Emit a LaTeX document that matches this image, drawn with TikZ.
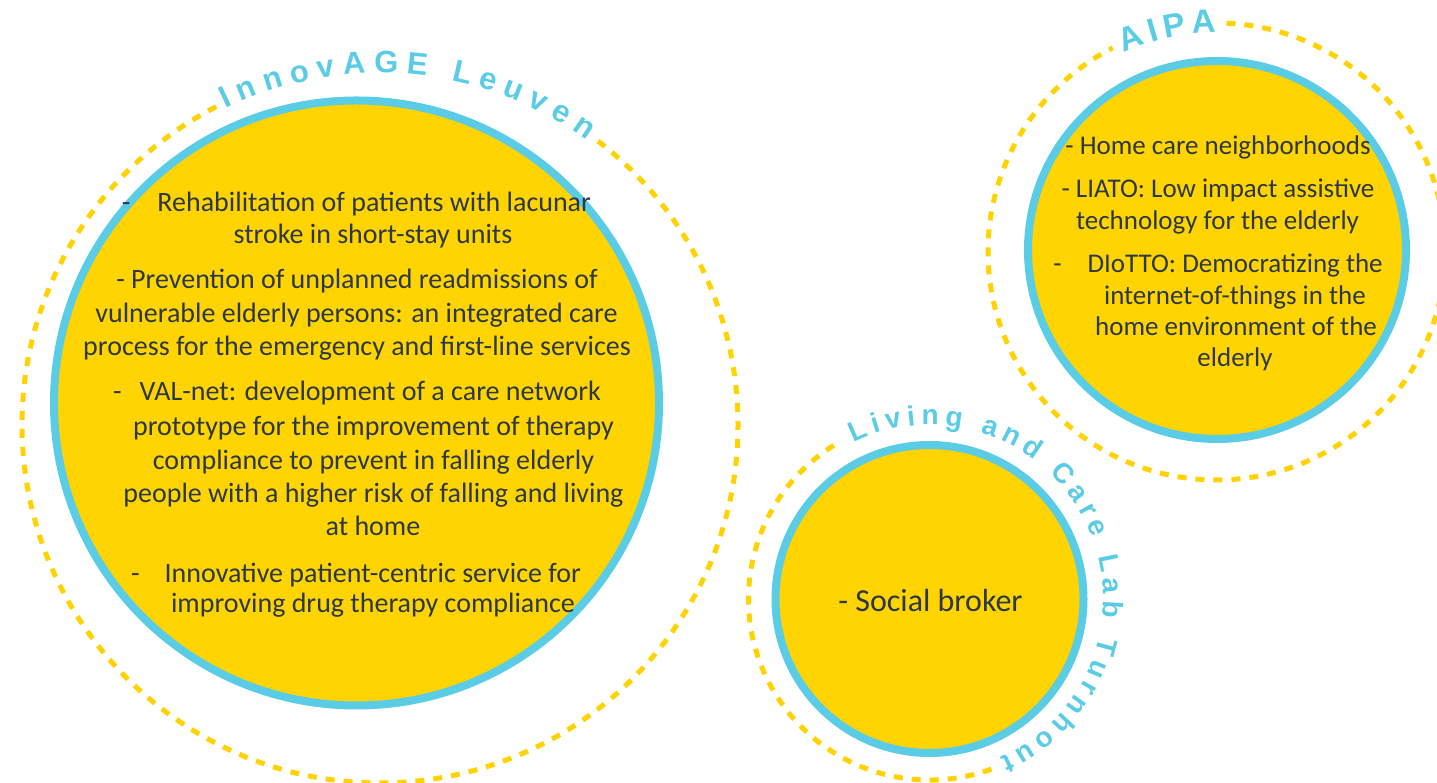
\documentclass[tikz,border=0pt]{standalone}
\usepackage{fontspec}
\setmainfont{Carlito}
\newfontfamily\labfont{Liberation Sans}
\usetikzlibrary{decorations.text}
\definecolor{ringblue}{RGB}{91,204,230}
\definecolor{sunyellow}{RGB}{255,212,0}
\definecolor{dashyellow}{RGB}{255,210,0}
\definecolor{bodytext}{RGB}{44,56,72}
\newcommand{\dashgap}[1]{-\hspace{#1}}
\begin{document}
\begin{tikzpicture}[x=1pt,y=1pt,
  ring/.style={circle, draw=ringblue, line width=8pt, fill=sunyellow, inner sep=0pt},
  dashring/.style={draw=dashyellow, line width=5pt, dash pattern=on 9pt off 9pt},
  body/.style={text=bodytext, font=\fontsize{27}{32}\selectfont, inner sep=0pt, anchor=base},
  bigbody/.style={body, font=\fontsize{28}{33}\selectfont},
  arclabel/.style={decorate, decoration={text along path, text={#1}, text align={fit to path}, text color=ringblue}}
]
\useasboundingbox (0,0) rectangle (1437,783);

% centres of the dashed rings
\coordinate (innoC) at (380,358);
\coordinate (aipaC) at (1216.5,531.5);
\coordinate (livC) at (929.5,184);

% dashed rings with gaps for their labels
\draw[dashring] (innoC) ++(52.5:358) arc[start angle=52.5, end angle=-243, radius=358];
\draw[dashring] (aipaC) ++(87.5:228.5) arc[start angle=87.5, end angle=-243, radius=228.5];
\draw[dashring] (livC) ++(-70:181) arc[start angle=-70, end angle=-239.5, radius=181];

% curved labels
\path[arclabel={|\labfont\bfseries\fontsize{31}{33}\selectfont|InnovAGE Leuven}]
  (innoC) ++(116:352) arc[start angle=116, end angle=54, radius=352];
\path[arclabel={|\labfont\bfseries\fontsize{33}{35}\selectfont|AIPA}]
  (aipaC) ++(115:219) arc[start angle=115, end angle=90, radius=219];
\path[arclabel={|\labfont\bfseries\fontsize{28}{30}\selectfont|Living and Care Lab Turnhout}]
  (livC) ++(116:174) arc[start angle=116, end angle=-66, radius=174];

% filled circles
\node[ring, minimum size=605pt] (inno) at (356.5,380) {};
\node[ring, minimum size=378pt] (aipa) at (1217,533) {};
\node[ring, minimum size=308pt] (liv) at (929.5,184) {};

% InnovAGE Leuven texts
\node[bigbody] (i1) at (356.5,571) {\dashgap{27pt}Rehabilitation of patients with lacunar};
\node[bigbody] (i2) at (373,539) {stroke in short-stay units};
\node[bigbody] (i3) at (357,494) {- Prevention of unplanned readmissions of};
\node[bigbody] (i4) at (356.5,460) {vulnerable elderly persons: an integrated care};
\node[bigbody] (i5) at (357,427) {process for the emergency and first-line services};
\node[bigbody] (i6) at (357,382) {\dashgap{18pt}VAL-net: development of a care network};
\node[bigbody] (i7) at (373.5,347) {prototype for the improvement of therapy};
\node[bigbody] (i8) at (373.5,313) {compliance to prevent in falling elderly};
\node[bigbody] (i9) at (373.5,280) {people with a higher risk of falling and living};
\node[bigbody] (i10) at (373,247) {at home};
\node[bigbody] (i11) at (356,200) {\dashgap{25pt}Innovative patient-centric service for};
\node[bigbody] (i12) at (373,170) {improving drug therapy compliance};

% AIPA texts
\node[body] (a1) at (1218,628) {- Home care neighborhoods};
\node[body] (a2) at (1218,585) {- LIATO: Low impact assistive};
\node[body] (a3) at (1217.5,553) {technology for the elderly};
\node[body] (a4) at (1218,510) {\dashgap{26pt}DIoTTO: Democratizing the};
\node[body] (a5) at (1235,478) {internet-of-things in the};
\node[body] (a6) at (1236,447) {home environment of the};
\node[body] (a7) at (1235,416) {elderly};

% Living and Care Lab text
\node[body, font=\fontsize{32}{37}\selectfont] (l1) at (930.5,171) {- Social broker};
\end{tikzpicture}
\end{document}
